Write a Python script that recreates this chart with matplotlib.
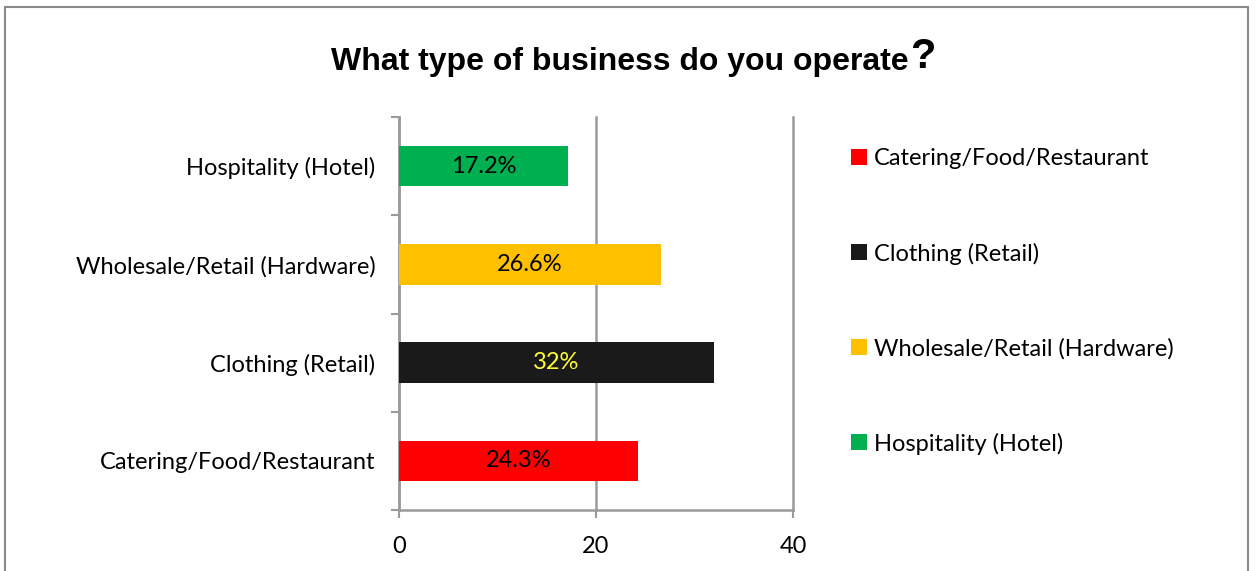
import matplotlib
matplotlib.use("Agg")
import matplotlib.pyplot as plt
from matplotlib.patches import Rectangle, Patch

categories = ["Catering/Food/Restaurant", "Clothing (Retail)",
              "Wholesale/Retail (Hardware)", "Hospitality (Hotel)"]
values = [24.3, 32.0, 26.6, 17.2]
labels = ["24.3%", "32%", "26.6%", "17.2%"]
colors = ["#FF0000", "#1A1A1A", "#FFC000", "#00B050"]
label_colors = ["black", "#FFFF33", "black", "black"]
xticks = [0, 20, 40]

W, H = 1258, 571
fig = plt.figure(figsize=(W / 100, H / 100), dpi=100)
fig.patch.set_facecolor("white")

# outer chart-area frame (open at the bottom)
fig.add_artist(Rectangle((5 / W, -0.2), (1248 - 5) / W, 1.2 - 7 / H,
                         transform=fig.transFigure, fill=False,
                         edgecolor="#8A8A8A", linewidth=1.5))

ax = fig.add_axes([399 / W, 1 - 510 / H, (793 - 399) / W, (510 - 117) / H])
body_font = "Lato"
fs = 17
grid_c = "#9A9A9A"

ypos = list(range(len(categories)))
bars = ax.barh(ypos, values, height=0.41, color=colors, zorder=3)
for y, v, t, c in zip(ypos, values, labels, label_colors):
    ax.text(v / 2, y, t, ha="center", va="center", color=c,
            fontsize=fs, family=body_font, zorder=4)

ax.set_xlim(0, 40)
ax.set_ylim(-0.5, len(categories) - 0.5)
ax.set_xticks(xticks)
ax.set_xticklabels([str(t) for t in xticks], fontsize=fs, family=body_font)
ax.set_yticks(ypos)
ax.set_yticklabels(categories, fontsize=fs, family=body_font)
ax.set_yticks([i - 0.5 for i in range(len(categories) + 1)], minor=True)

ax.tick_params(axis="y", which="major", length=0, pad=17)
ax.tick_params(axis="y", which="minor", length=6, width=1.5, color=grid_c)
ax.tick_params(axis="x", which="major", length=6, width=1.5, color=grid_c, pad=13)

ax.xaxis.grid(True, color=grid_c, linewidth=1.8, zorder=0)
for gl in ax.get_xgridlines():
    gl.set_clip_on(False)
ax.set_axisbelow(True)
for s in ["top", "right"]:
    ax.spines[s].set_visible(False)
for s in ["left", "bottom"]:
    ax.spines[s].set_color(grid_c)
    ax.spines[s].set_linewidth(1.8)

# title with an enlarged question mark
title = fig.text(0.5, 1 - 62 / H, "What type of business do you operate",
                 ha="center", va="center", fontsize=23, fontweight="bold",
                 family="Liberation Sans")
fig.canvas.draw()
bb = title.get_window_extent()
shift = 9
title.set_x((bb.x0 - shift) / W + bb.width / 2 / W)
fig.canvas.draw()
bb = title.get_window_extent()
fig.text(bb.x1 / W + 0.001, bb.y0 / H, "?", ha="left", va="bottom",
         fontsize=30, fontweight="bold", family="Liberation Sans")

# legend
handles = [Patch(facecolor=c, edgecolor="none") for c in colors]
leg = fig.legend(handles, categories, loc="upper left",
                 bbox_to_anchor=(830 / W, 1 - 127 / H),
                 frameon=False, prop={"family": body_font, "size": fs},
                 handlelength=0.65, handleheight=0.65, handletextpad=0.3,
                 labelspacing=3.1)

fig.savefig("out.png", dpi=100)
